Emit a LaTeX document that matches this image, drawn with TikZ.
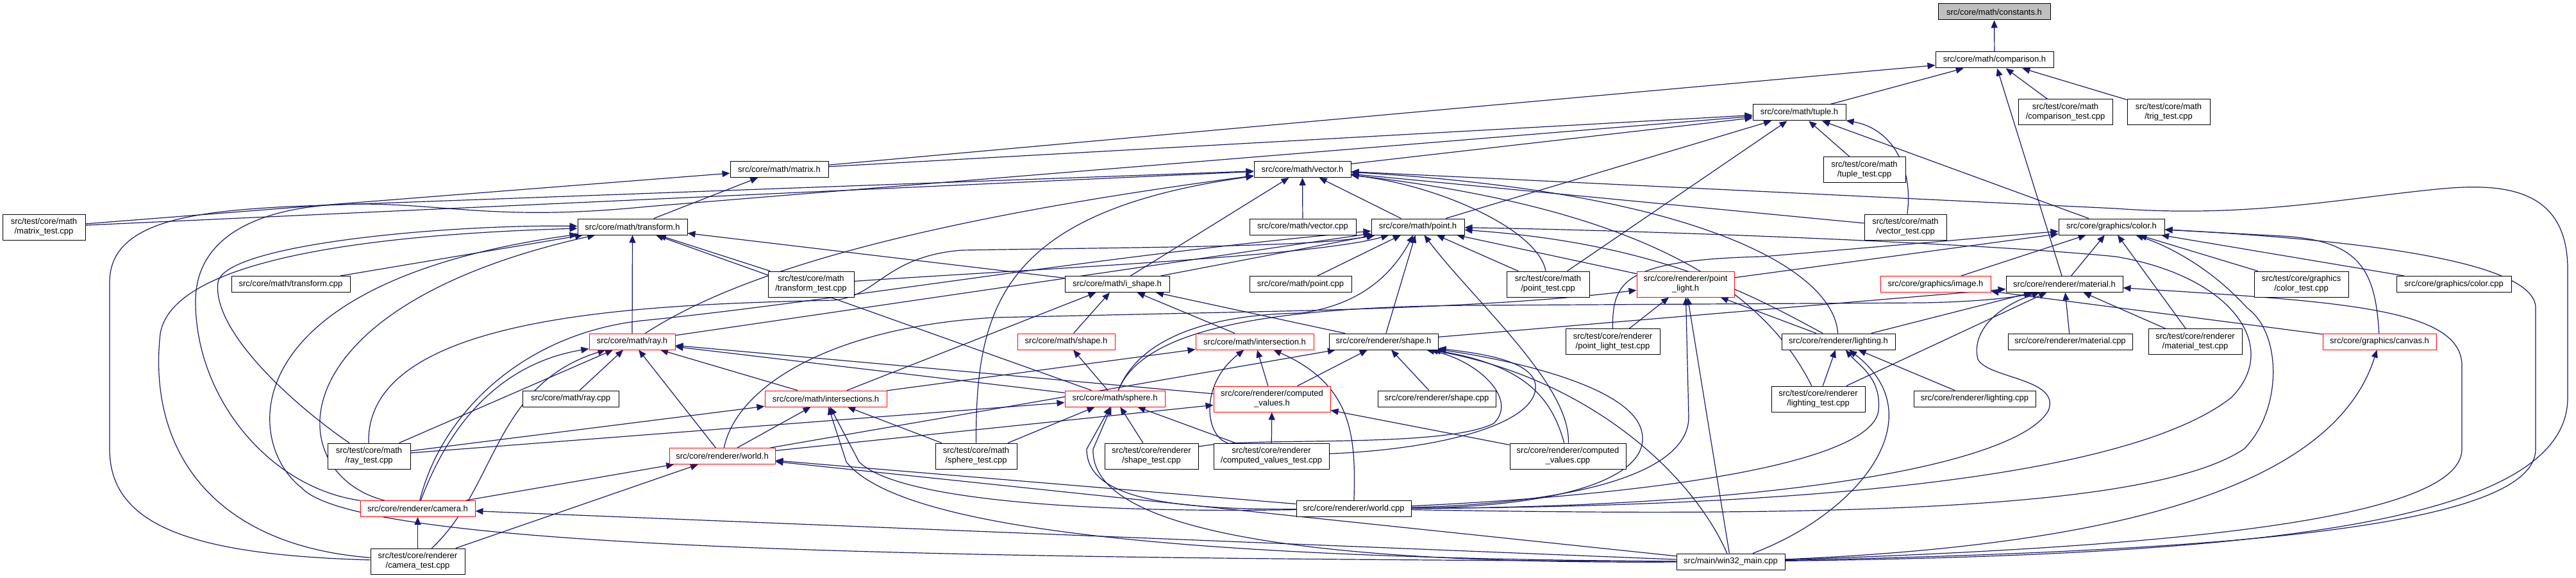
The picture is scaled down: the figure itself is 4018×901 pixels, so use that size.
\documentclass[tikz,border=0pt]{standalone}
\usepackage{fontspec}
\setmainfont{Liberation Sans}
\usepackage{xcolor}
\usepackage{tikz}
\usetikzlibrary{arrows.meta}
\definecolor{edgeblue}{HTML}{191970}
\definecolor{truncred}{HTML}{FF0000}
\definecolor{rootgray}{HTML}{BFBFBF}
\pgfdeclarelayer{background}
\pgfsetlayers{background,main}

\begin{document}
\begin{tikzpicture}[
  x=1pt, y=-1pt,
  file/.style={draw=black, fill=white, line width=1pt, align=center,
    font=\fontsize{13}{15}\selectfont, inner xsep=4pt, inner ysep=2pt,
    minimum height=25pt},
  twoline/.style={file, minimum height=40pt},
  trunc/.style={draw=truncred},
  root/.style={fill=rootgray},
  edge/.style={-{Triangle[length=12pt,width=10pt]}, draw=edgeblue, line width=1.2pt}
]
\useasboundingbox (0,0) rectangle (4018,901);
\node[file, root, minimum width=175] (constants) at (3110.5,18.5) {src/core/math/constants.h};
\node[file, minimum width=184] (comparison) at (3111,93.5) {src/core/math/comparison.h};
\node[twoline, minimum width=147] (comparisontest) at (3221.5,175) {src/test/core/math\\/comparison\_test.cpp};
\node[twoline, minimum width=129] (trigtest) at (3382.5,175) {src/test/core/math\\/trig\_test.cpp};
\node[file, minimum width=145] (tuple) at (2806.5,175.5) {src/core/math/tuple.h};
\node[twoline, minimum width=128] (tupletest) at (2908,264.5) {src/test/core/math\\/tuple\_test.cpp};
\node[file, minimum width=153] (matrix) at (1215.5,264) {src/core/math/matrix.h};
\node[file, minimum width=151] (vector) at (2031.5,264) {src/core/math/vector.h};
\node[twoline, minimum width=129] (matrixtest) at (68.5,354) {src/test/core/math\\/matrix\_test.cpp};
\node[file, minimum width=171] (transform) at (986.5,353.5) {src/core/math/transform.h};
\node[file, minimum width=166] (vectorcpp) at (2032,353.5) {src/core/math/vector.cpp};
\node[file, minimum width=145] (point) at (2211.5,353.5) {src/core/math/point.h};
\node[twoline, minimum width=128] (vectortest) at (2972,354) {src/test/core/math\\/vector\_test.cpp};
\node[file, minimum width=165] (color) at (3293.5,353.5) {src/core/graphics/color.h};
\node[file, minimum width=185] (transformcpp) at (453.5,443) {src/core/math/transform.cpp};
\node[twoline, minimum width=134] (transformtest) at (1265,443) {src/test/core/math\\/transform\_test.cpp};
\node[file, minimum width=163] (ishape) at (1742.5,443) {src/core/math/i\_shape.h};
\node[file, minimum width=159] (pointcpp) at (2028.5,443) {src/core/math/point.cpp};
\node[twoline, minimum width=129] (pointtest) at (2414.5,443) {src/test/core/math\\/point\_test.cpp};
\node[twoline, trunc, minimum width=152] (pointlight) at (2629,443) {src/core/renderer/point\\\_light.h};
\node[file, trunc, minimum width=172] (image) at (3019,443) {src/core/graphics/image.h};
\node[file, minimum width=182] (material) at (3220,443) {src/core/renderer/material.h};
\node[twoline, minimum width=147] (colortest) at (3589.5,443) {src/test/core/graphics\\/color\_test.cpp};
\node[file, minimum width=179] (colorcpp) at (3827.5,443) {src/core/graphics/color.cpp};
\node[file, trunc, minimum width=134] (ray) at (986,532.5) {src/core/math/ray.h};
\node[file, trunc, minimum width=152] (mathshape) at (1663,532.5) {src/core/math/shape.h};
\node[file, trunc, minimum width=184] (intersection) at (1957,532.5) {src/core/math/intersection.h};
\node[file, minimum width=170] (rshape) at (2158,532.5) {src/core/renderer/shape.h};
\node[twoline, minimum width=147] (pointlighttest) at (2515.5,532.5) {src/test/core/renderer\\/point\_light\_test.cpp};
\node[file, minimum width=177] (lighting) at (2867.5,532.5) {src/core/renderer/lighting.h};
\node[file, minimum width=194] (materialcpp) at (3229,532.5) {src/core/renderer/material.cpp};
\node[twoline, minimum width=146] (materialtest) at (3424,532.5) {src/test/core/renderer\\/material\_test.cpp};
\node[file, trunc, minimum width=177] (canvas) at (3711.5,532.5) {src/core/graphics/canvas.h};
\node[file, minimum width=150] (raycpp) at (890,621.5) {src/core/math/ray.cpp};
\node[file, trunc, minimum width=190] (intersections) at (1288,621.5) {src/core/math/intersections.h};
\node[file, trunc, minimum width=156] (sphere) at (1739,621.5) {src/core/math/sphere.h};
\node[twoline, trunc, minimum width=182] (computedvalues) at (1984,622) {src/core/renderer/computed\\\_values.h};
\node[file, minimum width=184] (shapecpp) at (2241,621.5) {src/core/renderer/shape.cpp};
\node[twoline, minimum width=146] (lightingtest) at (2836,622) {src/test/core/renderer\\/lighting\_test.cpp};
\node[file, minimum width=190] (lightingcpp) at (3080,621.5) {src/core/renderer/lighting.cpp};
\node[twoline, minimum width=129] (raytest) at (575.5,711) {src/test/core/math\\/ray\_test.cpp};
\node[file, trunc, minimum width=165] (world) at (1126.5,711) {src/core/renderer/world.h};
\node[twoline, minimum width=127] (spheretest) at (1522.5,711) {src/test/core/math\\/sphere\_test.cpp};
\node[twoline, minimum width=146] (shapetest) at (1796,711) {src/test/core/renderer\\/shape\_test.cpp};
\node[twoline, minimum width=180] (cvtest) at (1983,711) {src/test/core/renderer\\/computed\_values\_test.cpp};
\node[twoline, minimum width=181] (cvcpp) at (2445.5,711) {src/core/renderer/computed\\\_values.cpp};
\node[file, trunc, minimum width=179] (camera) at (651.5,793) {src/core/renderer/camera.h};
\node[file, minimum width=179] (worldcpp) at (2111.5,793) {src/core/renderer/world.cpp};
\node[twoline, minimum width=147] (cameratest) at (651.5,875) {src/test/core/renderer\\/camera\_test.cpp};
\node[file, minimum width=169] (win32) at (2699.5,875.5) {src/main/win32\_main.cpp};

\begin{pgfonlayer}{background}
\fill[white] (0,0) rectangle (4018,901);
\draw[edge] (comparison) -- (constants);
\draw[edge] (tuple) -- (comparison);
\draw[edge] (matrix) -- (comparison);
\draw[edge] (comparisontest) -- (comparison);
\draw[edge] (trigtest) -- (comparison);
\draw[edge] (material) -- (comparison);
\draw[edge] (vector) -- (tuple);
\draw[edge] (matrix) -- (tuple);
\draw[edge] (point) -- (tuple);
\draw[edge] (pointtest) -- (tuple);
\draw[edge] (tupletest) -- (tuple);
\draw[edge] (color) -- (tuple);
\draw[edge] (vectortest) .. controls (2985,260) and (2950,200) .. (tuple);
\draw[edge] (camera) .. controls (420,760) and (305,620) .. (305,470)
  .. controls (305,360) and (420,318) .. (560,318)
  .. controls (700,318) and (780,345) .. (1010,322) -- (tuple);
\draw[edge] (matrixtest) -- (matrix);
\draw[edge] (transform) -- (matrix);
\draw[edge] (matrixtest) -- (vector);
\draw[edge] (vectorcpp) -- (vector);
\draw[edge] (point) -- (vector);
\draw[edge] (vectortest) -- (vector);
\draw[edge] (ishape) -- (vector);
\draw[edge] (pointtest) .. controls (2400,360) and (2250,290) .. (vector);
\draw[edge] (ray) .. controls (1100,460) and (1300,360) .. (vector);
\draw[edge] (spheretest) .. controls (1522,480) and (1560,330) .. (vector);
\draw[edge] (lighting) .. controls (2860,420) and (2650,300) .. (vector);
\draw[edge] (lightingtest) .. controls (2760,470) and (2600,330) .. (vector);
\draw[edge] (cameratest) .. controls (300,865) and (171,820) .. (171,700) -- (171,440)
  .. controls (171,345) and (300,330) .. (450,322) -- (vector);
\draw[edge] (win32) .. controls (3500,865) and (4005,820) .. (4005,620) -- (4005,420)
  .. controls (4005,290) and (3900,285) .. (3800,295)
  .. controls (3650,310) and (3500,340) .. (3300,325) -- (vector);
\draw[edge] (transformcpp) -- (transform);
\draw[edge] (transformtest) -- (transform);
\draw[edge] (ishape) -- (transform);
\draw[edge] (ray) -- (transform);
\draw[edge] (sphere) -- (transform);
\draw[edge] (raytest) .. controls (470,640) and (330,520) .. (340,440)
  .. controls (350,380) and (700,350) .. (transform);
\draw[edge] (camera) .. controls (440,740) and (420,480) .. (transform);
\draw[edge] (cameratest) .. controls (330,850) and (230,700) .. (250,520)
  .. controls (270,400) and (600,365) .. (transform);
\draw[edge] (win32) .. controls (1500,870) and (560,860) .. (470,760)
  .. controls (380,690) and (360,440) .. (transform);
\draw[edge] (pointcpp) -- (point);
\draw[edge] (pointtest) -- (point);
\draw[edge] (pointlight) -- (point);
\draw[edge] (ray) -- (point);
\draw[edge] (ishape) -- (point);
\draw[edge] (rshape) -- (point);
\draw[edge] (lighting) .. controls (2750,470) and (2600,380) .. (point);
\draw[edge] (transformtest) .. controls (1600,420) and (2050,400) .. (point);
\draw[edge] (raytest) .. controls (570,490) and (1000,475) .. (1300,468)
  .. controls (1370,462) and (1380,400) .. (1500,390)
  .. controls (1800,385) and (2050,385) .. (point);
\draw[edge] (camera) .. controls (690,640) and (820,520) .. (1000,500)
  .. controls (1300,470) and (1700,400) .. (point);
\draw[edge] (sphere) .. controls (1780,520) and (1900,490) .. (2030,488)
  .. controls (2120,475) and (2170,430) .. (point);
\draw[edge] (cvcpp) .. controls (2450,600) and (2300,470) .. (point);
\draw[edge] (worldcpp) .. controls (2700,790) and (3300,760) .. (3480,620)
  .. controls (3560,540) and (3480,430) .. (3300,400)
  .. controls (3100,380) and (2600,360) .. (point);
\draw[edge] (image) -- (color);
\draw[edge] (material) -- (color);
\draw[edge] (colortest) -- (color);
\draw[edge] (colorcpp) -- (color);
\draw[edge] (materialtest) -- (color);
\draw[edge] (pointlight) -- (color);
\draw[edge] (canvas) .. controls (3705,420) and (3680,375) .. (3560,368) -- (color);
\draw[edge] (pointlighttest) .. controls (2515,440) and (2530,405) .. (2750,400) -- (color);
\draw[edge] (worldcpp) .. controls (2800,805) and (3350,800) .. (3500,700)
  .. controls (3560,640) and (3560,520) .. (3505,480)
  .. controls (3460,430) and (3400,390) .. (color);
\draw[edge] (win32) .. controls (3400,860) and (3955,830) .. (3955,700) -- (3955,480)
  .. controls (3955,410) and (3700,375) .. (color);
\draw[edge] (materialcpp) -- (material);
\draw[edge] (materialtest) -- (material);
\draw[edge] (rshape) -- (material);
\draw[edge] (lighting) -- (material);
\draw[edge] (lightingtest) -- (material);
\draw[edge] (sphere) .. controls (1780,520) and (1950,478) .. (2300,476) -- (3000,472)
  .. controls (3100,470) and (3150,462) .. (material);
\draw[edge] (worldcpp) .. controls (2800,790) and (3150,720) .. (3195,640)
  .. controls (3215,590) and (3100,590) .. (3085,560)
  .. controls (3075,520) and (3110,480) .. (material);
\draw[edge] (win32) .. controls (3300,855) and (3840,820) .. (3840,700) -- (3840,570)
  .. controls (3840,480) and (3650,470) .. (material);
\draw[edge] (canvas) -- (image);
\draw[edge] (pointlighttest) -- (pointlight);
\draw[edge] (lighting) -- (pointlight);
\draw[edge] (win32) -- (pointlight);
\draw[edge] (world) .. controls (1150,600) and (1300,510) .. (1550,495) -- (2000,485)
  .. controls (2300,478) and (2450,465) .. (pointlight);
\draw[edge] (worldcpp) .. controls (2450,785) and (2634,740) .. (2634,650) -- (pointlight);
\draw[edge] (lightingtest) -- (lighting);
\draw[edge] (lightingcpp) -- (lighting);
\draw[edge] (worldcpp) .. controls (2600,770) and (2920,720) .. (2930,640)
  .. controls (2935,590) and (2900,570) .. (lighting);
\draw[edge] (win32) .. controls (2900,800) and (3020,650) .. (lighting);
\draw[edge] (mathshape) -- (ishape);
\draw[edge] (intersection) -- (ishape);
\draw[edge] (intersections) -- (ishape);
\draw[edge] (rshape) -- (ishape);
\draw[edge] (sphere) -- (mathshape);
\draw[edge] (intersections) -- (intersection);
\draw[edge] (computedvalues) -- (intersection);
\draw[edge] (cvtest) .. controls (1880,680) and (1870,600) .. (intersection);
\draw[edge] (worldcpp) .. controls (2115,680) and (2110,600) .. (intersection);
\draw[edge] (shapecpp) -- (rshape);
\draw[edge] (computedvalues) -- (rshape);
\draw[edge] (world) -- (rshape);
\draw[edge] (shapetest) .. controls (1950,680) and (2250,700) .. (2330,660)
  .. controls (2370,620) and (2300,560) .. (rshape);
\draw[edge] (cvtest) .. controls (2250,700) and (2400,660) .. (2395,600)
  .. controls (2390,560) and (2300,550) .. (rshape);
\draw[edge] (cvcpp) .. controls (2420,620) and (2380,570) .. (rshape);
\draw[edge] (worldcpp) .. controls (2450,790) and (2580,740) .. (2560,670)
  .. controls (2540,600) and (2350,560) .. (rshape);
\draw[edge] (win32) .. controls (2640,740) and (2480,590) .. (rshape);
\draw[edge] (raycpp) -- (ray);
\draw[edge] (raytest) -- (ray);
\draw[edge] (world) -- (ray);
\draw[edge] (intersections) -- (ray);
\draw[edge] (computedvalues) -- (ray);
\draw[edge] (sphere) -- (ray);
\draw[edge] (camera) .. controls (690,690) and (760,570) .. (ray);
\draw[edge] (cameratest) .. controls (775,760) and (770,600) .. (ray);
\draw[edge] (raytest) -- (intersections);
\draw[edge] (spheretest) -- (intersections);
\draw[edge] (world) -- (intersections);
\draw[edge] (worldcpp) .. controls (1700,800) and (1400,780) .. (1340,720) -- (intersections);
\draw[edge] (win32) .. controls (1800,870) and (1400,820) .. (1320,720) -- (intersections);
\draw[edge] (raytest) -- (sphere);
\draw[edge] (spheretest) -- (sphere);
\draw[edge] (shapetest) -- (sphere);
\draw[edge] (cvtest) -- (sphere);
\draw[edge] (worldcpp) .. controls (1800,795) and (1695,770) .. (1695,700) -- (sphere);
\draw[edge] (win32) .. controls (2000,880) and (1700,820) .. (1705,700) -- (sphere);
\draw[edge] (cvtest) -- (computedvalues);
\draw[edge] (cvcpp) -- (computedvalues);
\draw[edge] (world) -- (computedvalues);
\draw[edge] (camera) -- (world);
\draw[edge] (cameratest) -- (world);
\draw[edge] (worldcpp) -- (world);
\draw[edge] (win32) -- (world);
\draw[edge] (cameratest) -- (camera);
\draw[edge] (win32) -- (camera);
\draw[edge] (win32) .. controls (3300,850) and (3640,760) .. (canvas);
\end{pgfonlayer}
\end{tikzpicture}
\end{document}
